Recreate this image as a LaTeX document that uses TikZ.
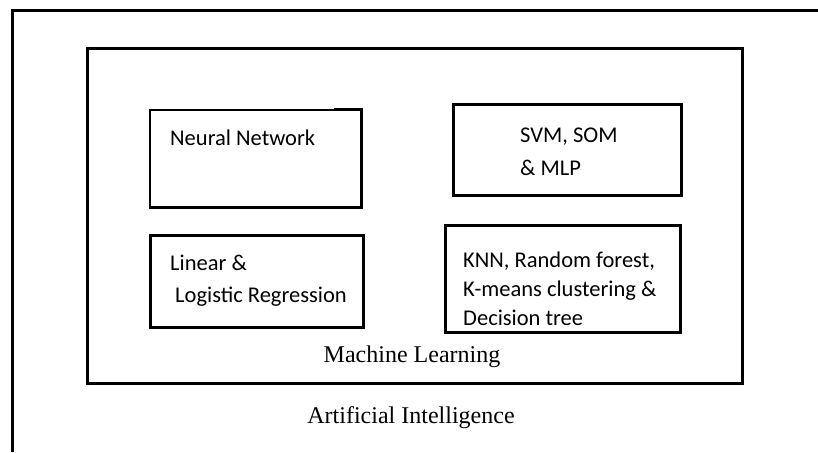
\documentclass[tikz,border=0pt]{standalone}
\usepackage{fontspec}
\setmainfont{Liberation Serif}
\newfontfamily\boxfont{Carlito}
\usetikzlibrary{positioning}

\begin{document}
\begin{tikzpicture}[x=1pt, y=-1pt,
    frame/.style={draw, line width=3pt, rectangle, inner sep=0pt},
    algo/.style={draw, line width=3pt, rectangle, inner sep=0pt},
    algotext/.style={font=\boxfont\fontsize{22.5}{29}\selectfont, align=left, inner sep=0pt, anchor=base west},
    tag/.style={font=\fontsize{24}{28}\selectfont, inner sep=0pt, anchor=base}]

    \useasboundingbox (0,0) rectangle (818,452);

    % AI frame (runs off at right and bottom)
    \coordinate (aibl) at (12,452);
    \coordinate (aitl) at (12,11);
    \coordinate (aitr) at (818,11);
    \draw[line width=3pt] (aibl) -- (aitl) -- (aitr);

    % ML frame
    \node[frame, minimum width=655pt, minimum height=334pt] (ml) at (414.5,216) {};

    % Algorithm boxes
    \node[algo, line width=1.5pt, minimum width=211pt, minimum height=97pt] (nn) at (255.5,158.5) {};
    \draw[line width=3pt] ([xshift=-28pt]nn.north east) -- (nn.north east) -- (nn.south east) -- (nn.south west);
    \node[algo, minimum width=228pt, minimum height=91pt] (svm) at (567,149.5) {};
    \node[algo, minimum width=213pt, minimum height=92pt] (reg) at (256.5,281) {};
    \node[algo, minimum width=235pt, minimum height=107pt] (knn) at (562.5,278.5) {};

    % Box texts (base = last line)
    \node[algotext] (nntxt) at (170,145) {Neural Network};
    \node[algotext, font=\boxfont\fontsize{22.5}{33}\selectfont] (svmtxt) at (520,175) {SVM, SOM\\\& MLP};
    \node[algotext, font=\boxfont\fontsize{22.5}{32}\selectfont] (regtxt) at (170,302) {Linear \&\\\hspace*{5pt}Logistic Regression};
    \node[algotext] (knntxt) at (463,325) {KNN, Random forest,\\K-means clustering \&\\Decision tree};

    % Frame labels
    \node[tag] (mltag) at (412,362) {Machine Learning};
    \node[tag] (aitag) at (411,423) {Artificial Intelligence};

\end{tikzpicture}
\end{document}
